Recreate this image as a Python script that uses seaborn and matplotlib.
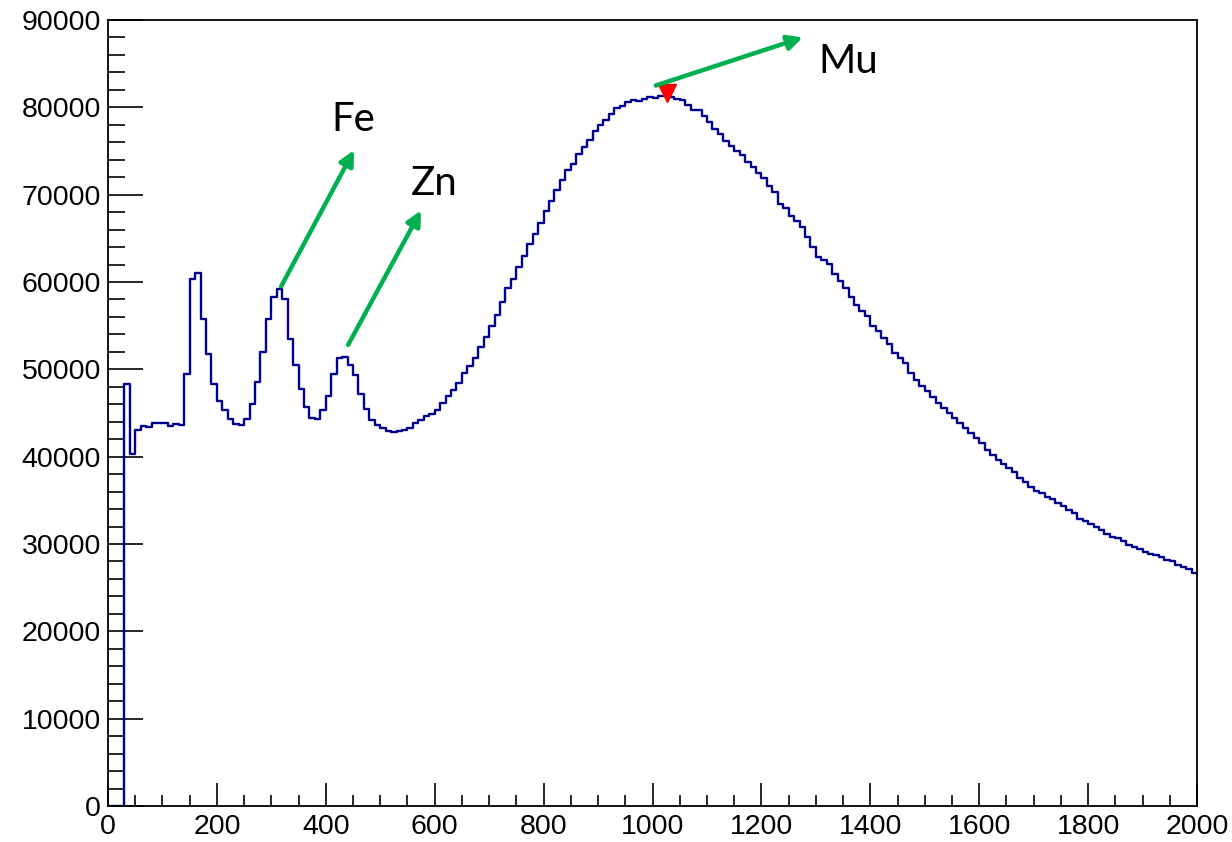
import numpy as np
import pandas as pd
import seaborn as sns
import matplotlib.pyplot as plt
from matplotlib.ticker import MultipleLocator

# histogram contents, 10-unit bins from 0 to 2000
bin_left = list(range(0, 2000, 10))
counts = [
    0, 0, 0, 48300, 40300, 43000, 43500, 43400, 43800, 43900,          # 0-90
    43800, 43500, 43700, 43600, 49500, 60300, 61000, 55800, 51800, 48300,  # 100-190
    46400, 45300, 44300, 43700, 43600, 44300, 46000, 48500, 52000, 55800,  # 200-290
    58300, 59200, 58000, 53500, 50500, 47800, 45700, 44400, 44300, 45300,  # 300-390
    47000, 49500, 51300, 51400, 50500, 49300, 47200, 45500, 44200, 43600,  # 400-490
    43300, 42900, 42800, 42900, 43100, 43300, 43800, 44200, 44700, 44900,  # 500-590
    45400, 46100, 46900, 47600, 48400, 49600, 50400, 51300, 52600, 53700,  # 600-690
    55000, 56200, 57700, 59300, 60400, 61700, 63000, 64300, 65500, 66800,  # 700-790
    68100, 69300, 70500, 71700, 72800, 73500, 74600, 75500, 76300, 77300,  # 800-890
    78000, 78600, 79200, 79900, 80100, 80600, 80800, 80700, 81000, 81200,  # 900-990
    81100, 81300, 81300, 81200, 80900, 80800, 80300, 79700, 79700, 79000,  # 1000-1090
    78300, 77500, 77000, 76200, 75600, 75000, 74500, 73700, 73200, 72500,  # 1100-1190
    71900, 71000, 70300, 68900, 68500, 67600, 67000, 66300, 65200, 64000,  # 1200-1290
    62900, 62500, 62100, 60900, 60100, 59300, 58300, 57400, 56700, 56100,  # 1300-1390
    55000, 54400, 53600, 52900, 51900, 51300, 50700, 49600, 48800, 48100,  # 1400-1490
    47500, 46800, 46200, 45600, 45000, 44400, 43900, 43300, 42700, 42100,  # 1500-1590
    41600, 40800, 40200, 39600, 39200, 38700, 38300, 37600, 37100, 36500,  # 1600-1690
    36100, 35800, 35400, 35100, 34700, 34400, 33900, 33500, 32900, 32600,  # 1700-1790
    32300, 31900, 31600, 31100, 30800, 30700, 30400, 29900, 29700, 29400,  # 1800-1890
    29100, 28900, 28700, 28500, 28200, 28000, 27600, 27400, 27100, 26700,  # 1900-1990
]

# peak marker and labelled arrows (data coordinates)
peak_x, peak_y = 1027, 81650
labels = ["Fe", "Zn", "Mu"]
arrow_start = [(318, 59500), (441, 52800), (1006, 82500)]
arrow_end = [(452, 75100), (575, 68200), (1276, 88000)]
label_pos = [(450, 78600), (599, 71300), (1360, 85200)]

sns.set_style("ticks")
plt.rcParams['font.family'] = ['Liberation Sans', 'DejaVu Sans']

fig = plt.figure(figsize=(12.32, 8.42), dpi=100)
ax = fig.add_axes([108 / 1232, 1 - 806 / 842, 1089 / 1232, 786 / 842])

df = pd.DataFrame({"center": np.array(bin_left) + 5, "count": counts})
sns.histplot(data=df, x="center", weights="count", binwidth=10, binrange=(0, 2000),
             element="step", fill=False, color="#000090", linewidth=1.7, ax=ax)

ax.plot([peak_x], [peak_y], marker="v", color="red", markersize=13,
        linestyle="none", zorder=4)

for lab, (x0, y0), (x1, y1), (tx, ty) in zip(labels, arrow_start, arrow_end, label_pos):
    ax.annotate("", xy=(x1, y1), xytext=(x0, y0),
                arrowprops=dict(arrowstyle="-|>", color="#00B050", lw=3.2,
                                mutation_scale=22, shrinkA=0, shrinkB=0),
                zorder=5)
    ax.text(tx, ty, lab, fontsize=29, family=['Lato', 'DejaVu Sans'],
            ha="center", va="center", color="black")

ax.set_xlim(0, 2000)
ax.set_ylim(0, 90000)
ax.set_xlabel("")
ax.set_ylabel("")
ax.xaxis.set_major_locator(MultipleLocator(200))
ax.xaxis.set_minor_locator(MultipleLocator(50))
ax.yaxis.set_major_locator(MultipleLocator(10000))
ax.yaxis.set_minor_locator(MultipleLocator(2000))

ax.tick_params(axis="both", which="both", direction="in", colors="black",
               labelsize=20.5, width=1.2, top=False, right=False)
ax.tick_params(axis="x", which="major", length=16.5, pad=6)
ax.tick_params(axis="x", which="minor", length=8)
ax.tick_params(axis="y", which="major", length=25, pad=5)
ax.tick_params(axis="y", which="minor", length=12)
for sp in ax.spines.values():
    sp.set_visible(True)
    sp.set_color("black")
    sp.set_linewidth(1.3)

plt.savefig("out.png", dpi=100)
